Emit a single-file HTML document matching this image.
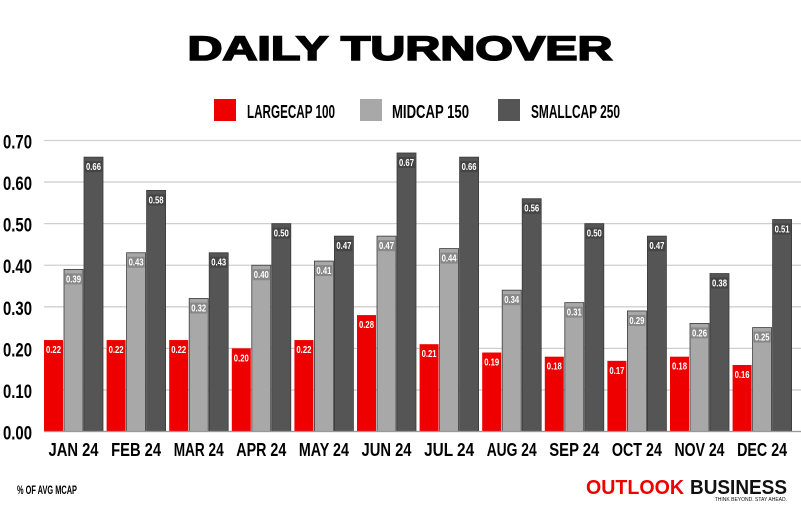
<!DOCTYPE html>
<html><head><meta charset="utf-8"><style>
body{margin:0;background:#fff;}
svg{display:block;font-family:"Liberation Sans",sans-serif;}
</style></head><body>
<svg id="chart" width="801" height="522" viewBox="0 0 801 522">
<text x="400" y="60" text-anchor="middle" font-size="34" font-weight="900" textLength="425" lengthAdjust="spacingAndGlyphs" fill="#000" stroke="#000" stroke-width="1.6">DAILY TURNOVER</text>
<g>
<rect x="214" y="99" width="22" height="22" fill="#ee0000"/>
<text x="247" y="118" font-size="18" font-weight="bold" textLength="88" lengthAdjust="spacingAndGlyphs">LARGECAP 100</text>
<rect x="360" y="99" width="22" height="22" fill="#a8a8a8"/>
<text x="392" y="118" font-size="18" font-weight="bold" textLength="77" lengthAdjust="spacingAndGlyphs">MIDCAP 150</text>
<rect x="498" y="99" width="22" height="22" fill="#555555"/>
<text x="531" y="118" font-size="18" font-weight="bold" textLength="89" lengthAdjust="spacingAndGlyphs">SMALLCAP 250</text>
</g>
<g id="grid"></g>
<g id="bars"></g>
<g id="xlabels"></g>
<text x="17" y="494" font-size="12" font-weight="bold" textLength="60" lengthAdjust="spacingAndGlyphs">% OF AVG MCAP</text>
<g>
<text x="586" y="494" font-size="20" font-weight="900" fill="#ee0000" textLength="98" lengthAdjust="spacingAndGlyphs">OUTLOOK</text>
<text x="690" y="494" font-size="20" font-weight="900" fill="#111" textLength="97" lengthAdjust="spacingAndGlyphs">BUSINESS</text>
<text x="787" y="501" font-size="5" text-anchor="end" fill="#111">THINK BEYOND. STAY AHEAD.</text>
</g>
</svg>
<script>
const months=["JAN 24","FEB 24","MAR 24","APR 24","MAY 24","JUN 24","JUL 24","AUG 24","SEP 24","OCT 24","NOV 24","DEC 24"];
const largecap=[0.22,0.22,0.22,0.20,0.22,0.28,0.21,0.19,0.18,0.17,0.18,0.16];
const midcap=[0.39,0.43,0.32,0.40,0.41,0.47,0.44,0.34,0.31,0.29,0.26,0.25];
const smallcap=[0.66,0.58,0.43,0.50,0.47,0.67,0.66,0.56,0.50,0.47,0.38,0.51];
const yTicks=[0,0.1,0.2,0.3,0.4,0.5,0.6,0.7];
const NS="http://www.w3.org/2000/svg";
const y0=431.5, pxPerUnit=415.7;
const y=v=>y0-v*pxPerUnit;
const x=i=>44+i*62.6;
function mk(tag,attrs,parent){const e=document.createElementNS(NS,tag);for(const k in attrs)e.setAttribute(k,attrs[k]);parent.appendChild(e);return e;}
const grid=document.getElementById('grid');
yTicks.forEach(t=>{
 const l=mk('line',{x1:44,x2:801,y1:y(t),y2:y(t),stroke:'#cfcfcf','stroke-width':1.3},grid);
 
 
 const tx=mk('text',{x:3,y:y(t)+8,'font-size':19,'font-weight':'bold',textLength:29,lengthAdjust:'spacingAndGlyphs'},grid);
 tx.textContent=t.toFixed(2);
 
 
});
const bars=document.getElementById('bars');
const series=[[largecap,'#ee0000',0,null],[midcap,'#a8a8a8',20,'#888'],[smallcap,'#555555',40,'#444']];
series.forEach(([vals,col,off,badge])=>{
 vals.forEach((v,i)=>{
  const bx=x(i)+off;
  const r=mk('rect',{x:bx,y:y(v),width:19,height:y0-y(v),fill:col,stroke:'#3a3a3a','stroke-width':badge?0.8:0},bars);
  
  
  if(badge){mk('rect',{x:bx+1,y:y(v)+4,width:17,height:11,fill:badge},bars);}
  const t=mk('text',{x:bx+9.5,y:y(v)+13,'text-anchor':'middle','font-size':10,'font-weight':'bold',fill:'#fff',textLength:15,lengthAdjust:'spacingAndGlyphs'},bars);
  t.textContent=v.toFixed(2);
  
  
 });
});
mk('line',{x1:44,x2:801,y1:y0,y2:y0,stroke:'#999','stroke-width':1.2},bars);
const xl=document.getElementById('xlabels');
months.forEach((m,i)=>{
 const t=mk('text',{x:x(i)+29.5,y:456,'text-anchor':'middle','font-size':18,'font-weight':'bold',textLength:50,lengthAdjust:'spacingAndGlyphs'},xl);
 t.textContent=m;
 
 
});
</script>
</body></html>
